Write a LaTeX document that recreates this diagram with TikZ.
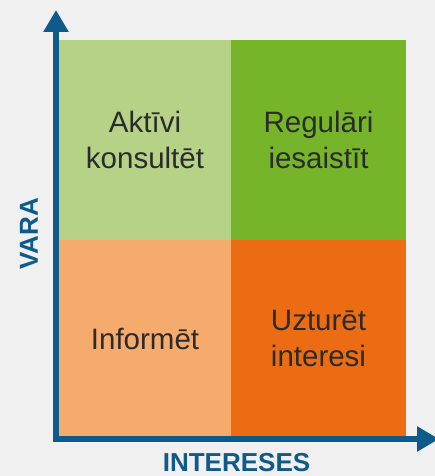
\documentclass[tikz,border=0pt]{standalone}
\usepackage{fontspec}
\setmainfont{Liberation Sans}
\usetikzlibrary{arrows.meta}
\definecolor{axisblue}{HTML}{0E5A8A}
\definecolor{paleground}{HTML}{F0F0F0}
\definecolor{palegreen}{HTML}{B5D286}
\definecolor{fullgreen}{HTML}{76B52A}
\definecolor{paleorange}{HTML}{F5AA6E}
\definecolor{fullorange}{HTML}{EC6C14}
\definecolor{labelgray}{HTML}{2B2B2B}
\tikzset{quadrant/.style={rectangle, inner sep=0pt, align=center,
    text=labelgray, font=\fontsize{29.5}{36}\selectfont}}
\tikzset{axis line/.style={draw=axisblue, line width=5.5pt, line join=miter,
    {Triangle[width=24pt,length=22pt]}-{Triangle[width=24pt,length=22pt]}}}
\tikzset{axis label/.style={text=axisblue, inner sep=0pt, font=\fontsize{26}{30}\selectfont\bfseries}}

\begin{document}
\begin{tikzpicture}
      [x=1pt, y=1pt]
      \fill [paleground] (0,0) rectangle (435,476);
      \useasboundingbox (0,0) rectangle (435,476);

      \begin{scope}
        \node [quadrant, fill=palegreen,  minimum width=172pt, minimum height=200pt] (consult) at (145,   336)   {Aktīvi\\konsultēt};
        \node [quadrant, fill=fullgreen,  minimum width=175pt, minimum height=200pt] (engage)  at (318.5, 336)   {Regulāri\\iesaistīt};
        \node [quadrant, fill=paleorange, minimum width=172pt, minimum height=197pt] (inform)  at (145,   137.5) {Informēt};
        \node [quadrant, fill=fullorange, minimum width=175pt, minimum height=197pt] (keep)    at (318.5, 137.5) {Uzturēt\\interesi};
      \end{scope}

      \coordinate (origin) at ( 56,  37);
      \coordinate (ytip)   at ( 56, 466);
      \coordinate (xtip)   at (439,  37);

      \draw [axis line] (ytip) -- (origin) -- (xtip);

      \node [axis label, rotate=90] (power)     at ( 29,   242)  {VARA};
      \node [axis label]            (interest)  at (236.5, 13)   {INTERESES};
    \end{tikzpicture}
\end{document}
